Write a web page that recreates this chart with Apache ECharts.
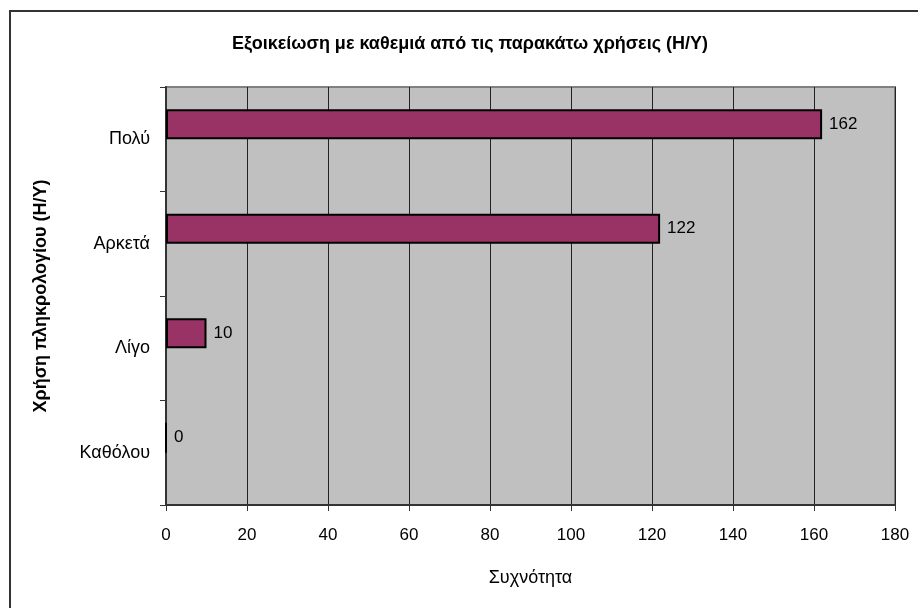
<!DOCTYPE html>
<html>
<head>
<meta charset="utf-8">
<script src="https://cdn.jsdelivr.net/npm/echarts@6/dist/echarts.min.js"></script>
<style>
  html, body { margin: 0; padding: 0; background: #fff; }
  #chart { width: 918px; height: 608px; }
</style>
</head>
<body>
<div id="chart"></div>
<script>
// κατηγορίες (από κάτω προς τα πάνω) και συχνότητες
var categories = ['Καθόλου', 'Λίγο', 'Αρκετά', 'Πολύ'];
var counts = [0, 10, 122, 162];
var xTicks = [0, 20, 40, 60, 80, 100, 120, 140, 160, 180];

var myChart = echarts.init(document.getElementById('chart'));

var font = 'Liberation Sans, Arial, sans-serif';

var option = {
    backgroundColor: '#fff',
    animation: false,
    graphic: [{
        type: 'rect',
        shape: { x: 10, y: 11, width: 1000, height: 1000 },
        style: { fill: 'none', stroke: '#333', lineWidth: 2 },
        z: 100
    }],
    title: {
        text: 'Εξοικείωση με καθεμιά από τις παρακάτω χρήσεις (Η/Υ)',
        left: 465,
        top: 30,
        textAlign: 'center',
        textStyle: { fontFamily: font, fontSize: 18, fontWeight: 'bold', color: '#000' }
    },
    grid: {
        left: 166, top: 87, right: 23, bottom: 103,
        show: true,
        backgroundColor: '#C0C0C0',
        borderColor: '#808080',
        borderWidth: 2
    },
    xAxis: {
        type: 'value',
        min: xTicks[0],
        max: xTicks[xTicks.length - 1],
        interval: 20,
        name: 'Συχνότητα',
        nameLocation: 'middle',
        nameGap: 64,
        nameTextStyle: { fontFamily: font, fontSize: 18, color: '#000' },
        axisLine: { show: true, lineStyle: { color: '#333', width: 2 } },
        axisTick: { show: true, length: 6, lineStyle: { color: '#333' } },
        axisLabel: { fontFamily: font, fontSize: 17, color: '#000', margin: 22 },
        splitLine: { show: true, lineStyle: { color: '#222', width: 1 } }
    },
    yAxis: {
        type: 'category',
        data: categories,
        name: 'Χρήση πληκρολογίου (Η/Υ)',
        nameLocation: 'middle',
        nameGap: 116,
        nameRotate: 90,
        nameTextStyle: { fontFamily: font, fontSize: 18, fontWeight: 'bold', color: '#000' },
        axisLine: { show: true, lineStyle: { color: '#333', width: 2 } },
        axisTick: { show: true, length: 6, lineStyle: { color: '#333' } },
        axisLabel: { fontFamily: font, fontSize: 18, color: '#000', margin: 16 }
    },
    series: [{
        name: 'Συχνότητα',
        type: 'bar',
        data: counts,
        barGap: '0%',
        barCategoryGap: '42.6%',
        itemStyle: { color: '#993366', borderColor: '#000', borderWidth: 2 },
        label: {
            show: true,
            position: 'right',
            distance: 7,
            fontFamily: font,
            fontSize: 17,
            color: '#000'
        }
    }, {
        name: 'κενό',
        type: 'bar',
        data: categories.map(function () { return null; }),
        barGap: '0%',
        barCategoryGap: '42.6%',
        silent: true
    }]
};

myChart.setOption(option);
</script>
</body>
</html>
